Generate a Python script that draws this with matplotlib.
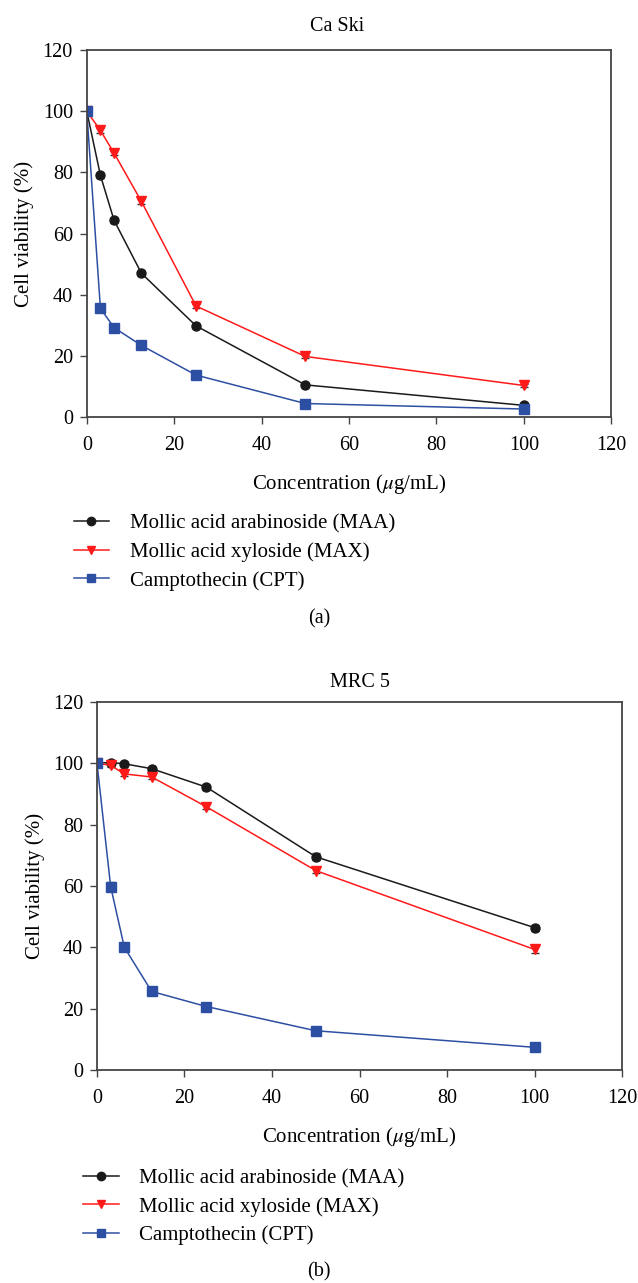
import numpy as np
import matplotlib.pyplot as plt
from matplotlib.lines import Line2D

plt.rcParams['font.family'] = ['Liberation Serif', 'DejaVu Serif']
plt.rcParams['mathtext.fontset'] = 'stix'

conc = [0, 3.125, 6.25, 12.5, 25, 50, 100]
series_names = ['Mollic acid arabinoside (MAA)', 'Mollic acid xyloside (MAX)', 'Camptothecin (CPT)']

# Ca Ski
caski_maa = [100, 79.0, 64.3, 47.0, 29.8, 10.5, 3.8]
caski_max = [100, 93.7, 86.3, 70.5, 36.3, 19.8, 10.3]
caski_cpt = [100, 35.5, 29.2, 23.4, 13.7, 4.4, 2.6]
caski_maa_err = [0.5, 0.8, 0.8, 0.7, 0.6, 0.6, 0.4]
caski_max_err = [0.5, 0.7, 0.7, 0.8, 0.7, 0.6, 0.6]
caski_cpt_err = [0.5, 0.8, 0.7, 0.7, 0.6, 0.5, 0.4]

# MRC 5
mrc_maa = [100, 100.2, 99.8, 98.2, 92.2, 69.5, 46.4]
mrc_max = [100, 99.3, 96.5, 95.5, 85.8, 65.0, 39.3]
mrc_cpt = [100, 59.8, 40.0, 25.6, 20.7, 12.8, 7.4]
mrc_maa_err = [0.5, 0.6, 0.6, 0.7, 0.8, 1.2, 1.0]
mrc_max_err = [0.5, 0.7, 0.7, 0.8, 0.8, 0.9, 1.3]
mrc_cpt_err = [0.5, 1.5, 1.0, 0.7, 0.6, 0.6, 0.6]

colors = ['#1a1a1a', '#ff1a1a', '#2d4fa3']
markers = ['o', 'v', 's']
fs = 14.5

fig = plt.figure(figsize=(6.38, 12.83), dpi=100)
ax1 = fig.add_axes([0.136, 0.675, 0.822, 0.286])
ax2 = fig.add_axes([0.152, 0.166, 0.823, 0.287])


def draw(ax, data, errs, title, title_x, title_pad):
  for y, e, c, m in zip(data, errs, colors, markers):
    ax.errorbar(conc, y, yerr=e, color=c, ecolor='#333333', elinewidth=1, capsize=3,
                marker=m, markersize=6.5, markerfacecolor=c, markeredgecolor=c, linewidth=1.1)
  ax.set_xlim(0, 120)
  ax.set_ylim(0, 120)
  ax.set_xticks(range(0, 121, 20))
  ax.set_yticks(range(0, 121, 20))
  ax.tick_params(direction='out', length=5, labelsize=fs, color='#444444', width=1)
  ax.tick_params(axis='x', pad=9)
  ax.tick_params(axis='y', pad=5)
  for s in ax.spines.values():
    s.set_color('#444444')
    s.set_linewidth(1.3)
  ax.set_title(title, fontsize=fs, pad=title_pad, x=title_x)
  ax.set_xlabel(r'Concentration ($\mu$g/mL)', fontsize=fs + 0.5, labelpad=12)
  ax.set_ylabel('Cell viability (%)', fontsize=fs + 0.5, labelpad=6)


draw(ax1, [caski_maa, caski_max, caski_cpt], [caski_maa_err, caski_max_err, caski_cpt_err], 'Ca Ski', 0.477, 13.5)
draw(ax2, [mrc_maa, mrc_max, mrc_cpt], [mrc_maa_err, mrc_max_err, mrc_cpt_err], 'MRC 5', 0.5, 10.5)

handles = [Line2D([], [], color=c, marker=m, markersize=6, linewidth=1.1) for c, m in zip(colors, markers)]
fig.legend(handles, series_names, loc='center left', bbox_to_anchor=(0.099, 0.5695), frameon=False,
           fontsize=fs + 0.5, handlelength=1.7, labelspacing=0.42, handletextpad=1.0, borderpad=0)
fig.legend(handles, series_names, loc='center left', bbox_to_anchor=(0.114, 0.0594), frameon=False,
           fontsize=fs + 0.5, handlelength=1.7, labelspacing=0.42, handletextpad=1.0, borderpad=0)

fig.text(0.5, 1 - 619 / 1283, '(a)', ha='center', va='center', fontsize=fs)
fig.text(0.5, 1 - 1272 / 1283, '(b)', ha='center', va='center', fontsize=fs)

plt.savefig('out.png', dpi=100)
